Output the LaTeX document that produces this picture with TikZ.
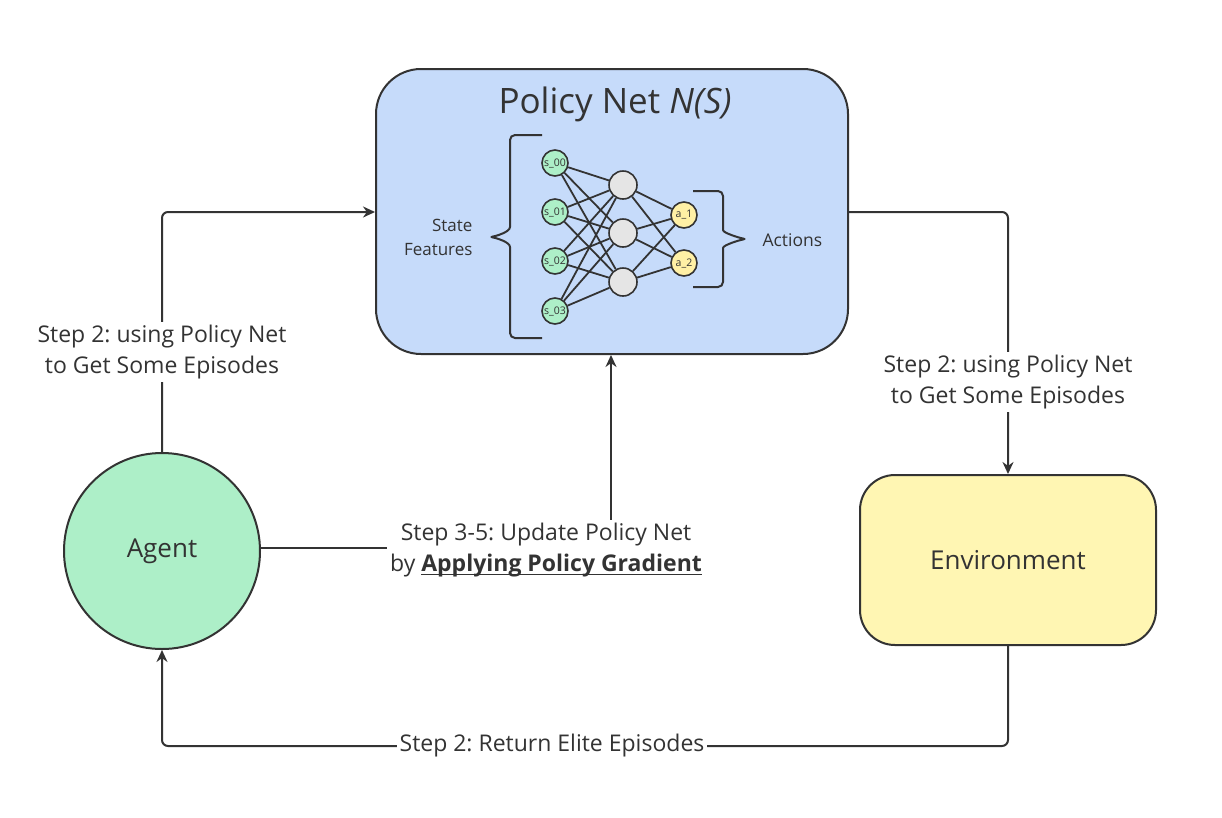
\documentclass[tikz,border=0pt]{standalone}
\usepackage{fontspec}
\setmainfont{Open Sans}
\usetikzlibrary{arrows.meta,calc}
\definecolor{ink}{RGB}{51,51,51}
\definecolor{pblue}{RGB}{198,219,250}
\definecolor{agreen}{RGB}{173,239,200}
\definecolor{eyellow}{RGB}{255,246,179}
\definecolor{ngray}{RGB}{229,229,229}
\definecolor{nyellow}{RGB}{255,240,165}
\newcommand\myul[1]{\setbox0\hbox{#1}\rlap{\rule[-4pt]{\wd0}{1.6pt}}\box0}
\frenchspacing
\tikzset{
  box/.style={draw=ink,line width=2pt,rounded corners=#1},
  conn/.style={draw=ink,line width=2pt,rounded corners=6pt,-{Stealth[length=12pt,width=11pt]}},
  lbl/.style={fill=white,text=ink,font=\fontsize{23}{31}\selectfont\frenchspacing,align=center,inner sep=3pt},
  inn/.style={circle,draw=ink,line width=1.6pt,fill=agreen,minimum size=26pt,inner sep=0pt,font=\fontsize{10.5}{11}\selectfont,text=ink},
  hid/.style={circle,draw=ink,line width=1.6pt,fill=ngray,minimum size=28pt,inner sep=0pt},
  outn/.style={circle,draw=ink,line width=1.6pt,fill=nyellow,minimum size=26pt,inner sep=0pt,font=\fontsize{10.5}{11}\selectfont,text=ink},
  nnedge/.style={draw=ink,line width=1.8pt},
  brc/.style={draw=ink,line width=2pt,rounded corners=5pt}
}
\begin{document}
\begin{tikzpicture}[x=1pt,y=-1pt]
\path[fill=white] (0,0) rectangle (1222,817);
\useasboundingbox (0,0) rectangle (1222,817);

% main shapes
\node[box=45pt,fill=pblue,minimum width=472pt,minimum height=285pt,inner sep=0pt] (policy) at (612,211.5) {};
\node[text=ink,font=\fontsize{35}{40}\selectfont] (title) at (615,104) {Policy Net \textit{N(S)}};
\node[circle,draw=ink,line width=2pt,fill=agreen,minimum size=196pt,inner sep=0pt,text=ink,font=\fontsize{26}{30}\selectfont] (agent) at (162,551) {Agent};
\node[box=35pt,fill=eyellow,minimum width=296pt,minimum height=170pt,inner sep=0pt,text=ink,font=\fontsize{26}{30}\selectfont] (env) at (1008,560) {Environment};

% neural net
\node[inn] (s0) at (555,163) {s\_00};
\node[inn] (s1) at (555,212) {s\_01};
\node[inn] (s2) at (555,261) {s\_02};
\node[inn] (s3) at (555,311) {s\_03};
\node[hid] (h1) at (623,185) {};
\node[hid] (h2) at (623,233) {};
\node[hid] (h3) at (623,282) {};
\node[outn] (a1) at (684,215) {a\_1};
\node[outn] (a2) at (684,263) {a\_2};
\foreach \s in {s0,s1,s2,s3}{\foreach \h in {h1,h2,h3}{\path[nnedge] (\s) -- (\h);}}
\foreach \h in {h1,h2,h3}{\foreach \a in {a1,a2}{\path[nnedge] (\h) -- (\a);}}

% braces
\path[brc] (542,135) -- (510,135) -- (510,222) .. controls (510,232) and (496,236) .. (489,237) .. controls (496,238) and (510,242) .. (510,252) -- (510,338) -- (542,338);
\path[brc] (693,191) -- (723,191) -- (723,225) .. controls (723,233) and (740,238) .. (747,239) .. controls (740,240) and (723,245) .. (723,253) -- (723,287) -- (693,287);
\node[text=ink,font=\fontsize{17}{24}\selectfont,align=right,anchor=east] (state) at (476,237) {State\\Features};
\node[text=ink,font=\fontsize{17.5}{20}\selectfont,anchor=west] (actions) at (759,240) {Actions};

% connectors
\coordinate (c1) at (162,212);
\path[conn] (agent.north) -- (c1) -- (policy.west |- c1);
\node[lbl] (l1) at (162,352) {Step 2: using Policy Net\\to Get Some Episodes};

\coordinate (c2) at (1008,212);
\path[conn] (policy.east |- c2) -- (c2) -- (env.north);
\node[lbl] (l2) at (1008,382) {Step 2: using Policy Net\\to Get Some Episodes};

\coordinate (c3) at (611,548);
\path[conn,rounded corners=0pt] (agent.east |- c3) -- (c3) -- (c3 |- policy.south);
\node[lbl] (l3) at (546,550) {Step 3-5: Update Policy Net\\by \myul{\textbf{Applying Policy Gradient}}};

\coordinate (c4) at (1008,746);
\coordinate (c5) at (162,746);
\path[conn] (env.south) -- (c4) -- (c5) -- (agent.south);
\node[lbl] (l4) at (552,746) {Step 2: Return Elite Episodes};
\end{tikzpicture}
\end{document}
